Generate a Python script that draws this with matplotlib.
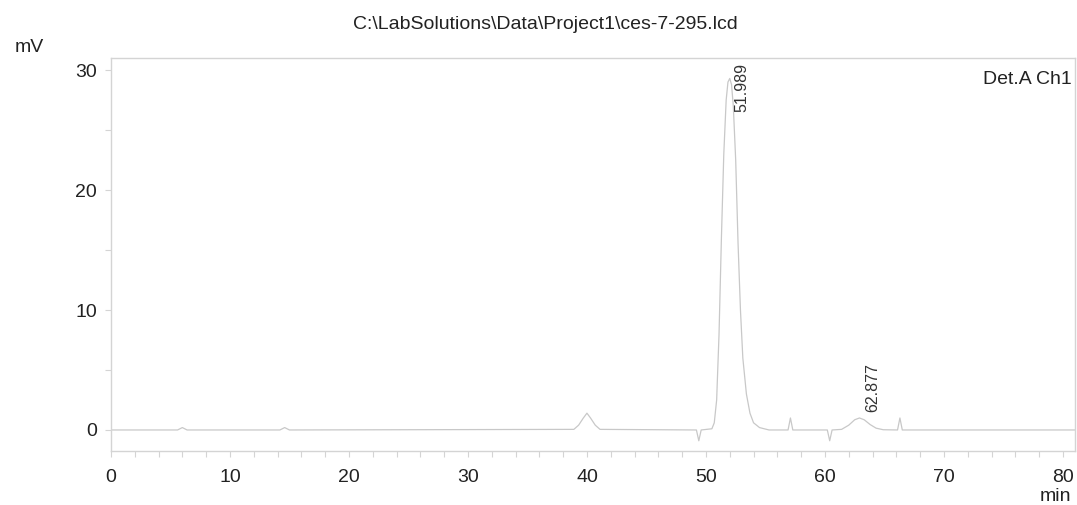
import matplotlib
matplotlib.use('Agg')
import matplotlib.pyplot as plt
from matplotlib.ticker import MultipleLocator

# Chromatogram trace (time in min, signal in mV)
time = [0.0, 5.6, 6.0, 6.4, 14.2, 14.6, 15.0, 38.9, 39.3, 39.7, 40.0, 40.3, 40.7, 41.1,
        49.2, 49.4, 49.6, 50.5, 50.7, 50.9, 51.1, 51.3, 51.5, 51.7, 51.85, 52.0, 52.15,
        52.3, 52.5, 52.7, 52.9, 53.1, 53.4, 53.7, 54.0, 54.5, 55.3, 56.9, 57.1, 57.3,
        60.2, 60.4, 60.6, 61.4, 62.0, 62.5, 62.9, 63.3, 63.8, 64.3, 64.9,
        66.1, 66.3, 66.5, 81.0]
signal = [0.0, 0.0, 0.2, 0.0, 0.0, 0.2, 0.0, 0.05, 0.4, 1.0, 1.4, 1.0, 0.4, 0.05,
          0.0, -0.9, 0.0, 0.1, 0.6, 2.5, 8.0, 16.0, 23.0, 27.5, 29.0, 29.3, 28.8,
          27.0, 22.5, 15.5, 10.0, 6.0, 3.0, 1.4, 0.6, 0.2, 0.0, 0.0, 1.0, 0.0,
          0.0, -0.9, 0.0, 0.05, 0.4, 0.85, 1.0, 0.85, 0.45, 0.15, 0.02,
          0.0, 1.0, 0.0, 0.0]

# peak labels
peak_times = ['51.989', '62.877']
peak_label_x = [53.0, 64.0]
peak_label_y = [26.5, 1.5]

title = 'C:\\LabSolutions\\Data\\Project1\\ces-7-295.lcd'

plt.rcParams['font.family'] = ['Liberation Sans', 'DejaVu Sans']
grey = '#d4d4d4'
txt = '#222222'

fig = plt.figure(figsize=(10.77, 5.05), dpi=100)
ax = fig.add_axes([0.103, 0.107, 0.895, 0.778])

ax.plot(time, signal, color='#c8c8c8', linewidth=0.9)

ax.set_xlim(0, 81)
ax.set_ylim(-1.75, 31)
ax.xaxis.set_major_locator(MultipleLocator(10))
ax.xaxis.set_minor_locator(MultipleLocator(2))
ax.yaxis.set_major_locator(MultipleLocator(10))
ax.yaxis.set_minor_locator(MultipleLocator(5))
ax.tick_params(which='both', direction='out', length=4, width=0.8, color=grey,
               labelsize=14, labelcolor=txt)
ax.tick_params(axis='x', pad=9)
ax.tick_params(axis='y', pad=6)

for sp in ax.spines.values():
    sp.set_color(grey)
    sp.set_linewidth(1.0)

for lab, x, y in zip(peak_times, peak_label_x, peak_label_y):
    ax.text(x, y, lab, rotation=90, ha='center', va='bottom', fontsize=11.5, color='#333333')

ax.text(0.997, 0.968, 'Det.A Ch1', transform=ax.transAxes, ha='right', va='top',
        fontsize=14, color=txt)

fig.text(0.506, 0.952, title, ha='center', va='center', fontsize=14, color=txt)
fig.text(0.027, 0.905, 'mV', ha='center', va='center', fontsize=14, color=txt)
fig.text(0.98, 0.016, 'min', ha='center', va='center', fontsize=14, color=txt)

fig.savefig('out.png', dpi=100)
